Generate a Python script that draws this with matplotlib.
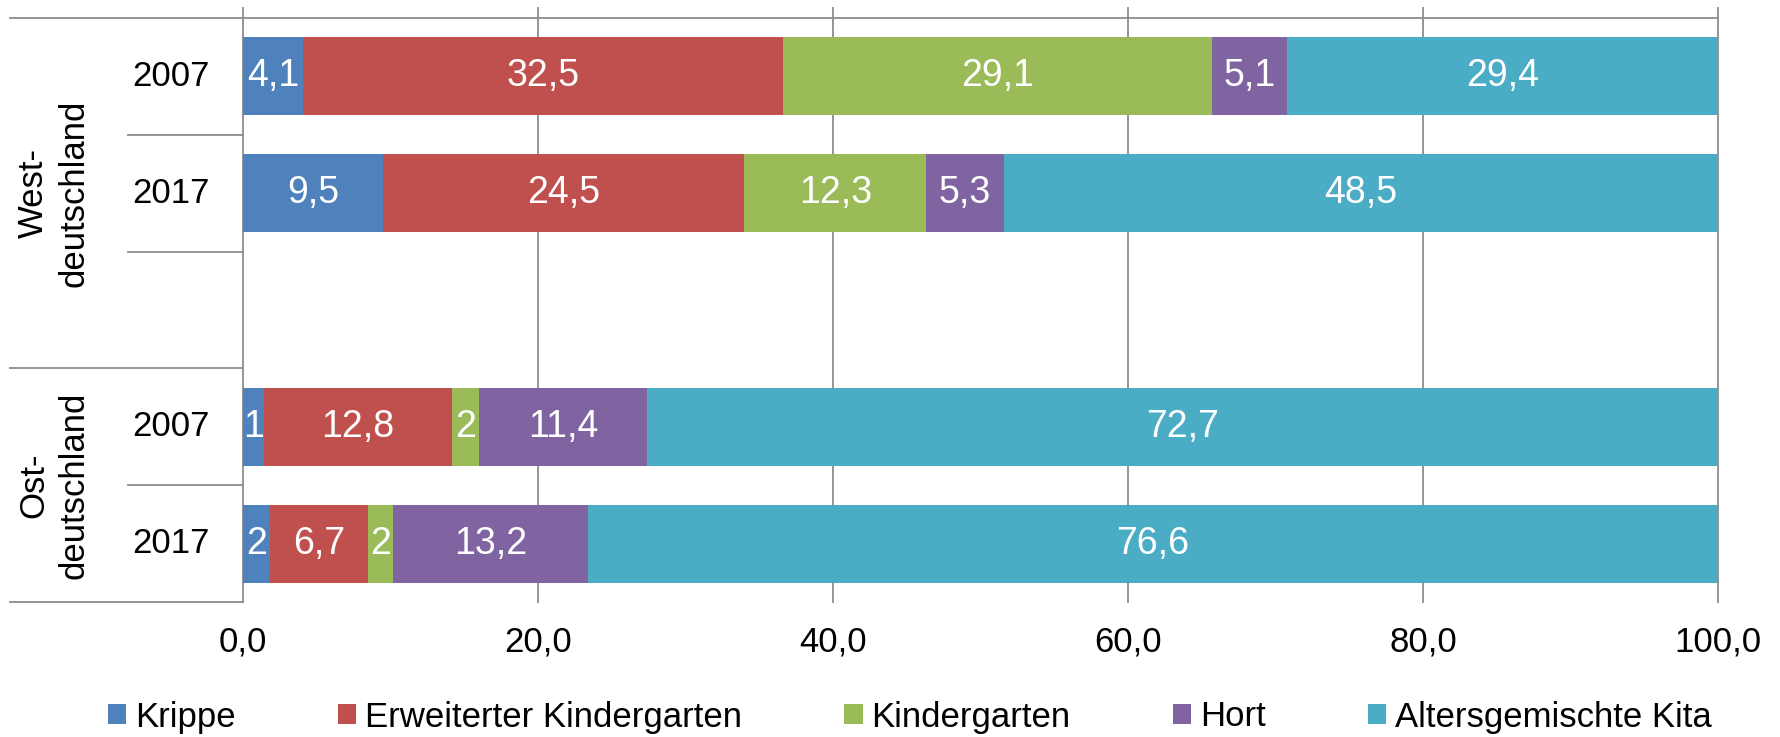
import matplotlib
matplotlib.use("Agg")
import matplotlib.pyplot as plt
from matplotlib.patches import Patch

plt.rcParams['font.family'] = ['Liberation Sans', 'DejaVu Sans']

# ---- data ----
groups = ["West-\ndeutschland", "Ost-\ndeutschland"]
years = ["2007", "2017", "2007", "2017"]
series_names = ["Krippe", "Erweiterter Kindergarten", "Kindergarten", "Hort",
                "Altersgemischte Kita"]
krippe = [4.1, 9.5, 1.4, 1.8]
erweitert = [32.5, 24.5, 12.8, 6.7]
kindergarten = [29.1, 12.3, 1.8, 1.7]
hort = [5.1, 5.3, 11.4, 13.2]
alters = [29.4, 48.5, 72.7, 76.6]
krippe_labels = ["4,1", "9,5", "1", "2"]
kindergarten_labels = ["29,1", "12,3", "2", "2"]
xticks = [0, 20, 40, 60, 80, 100]
xtick_labels = ["0,0", "20,0", "40,0", "60,0", "80,0", "100,0"]
colors = ["#4F81BD", "#C0504D", "#9BBB59", "#8064A2", "#4BACC6"]

def fmt(v):
    return f"{v:.1f}".replace(".", ",")

series = [krippe, erweitert, kindergarten, hort, alters]
labels = [krippe_labels, [fmt(v) for v in erweitert], kindergarten_labels,
          [fmt(v) for v in hort], [fmt(v) for v in alters]]

positions = [0, 1, 3, 4]  # slot 2 is an empty slot in the chart

W, H = 1781, 737
fig = plt.figure(figsize=(W / 100, H / 100), dpi=100)
ax_left, ax_right, ax_top, ax_bottom = 243, 1718, 8, 602
ax = fig.add_axes([ax_left / W, 1 - ax_bottom / H,
                   (ax_right - ax_left) / W, (ax_bottom - ax_top) / H])

slot_px = (602 - 18) / 5.0
ax.set_ylim(4.5, -0.5 - 10 / slot_px)
ax.set_xlim(0, 100)

grid_col = "#8c8c8c"
for t in xticks:
    ax.axvline(t, color=grid_col, lw=1.3, zorder=1, clip_on=False)

left = [0.0] * len(positions)
for vals, lab, col in zip(series, labels, colors):
    cont = ax.barh(positions, vals, left=left, height=0.668, color=col,
                   zorder=3, edgecolor='none')
    ax.bar_label(cont, labels=lab, label_type='center', color='white',
                 fontsize=27)
    left = [a + b for a, b in zip(left, vals)]

for s in ax.spines.values():
    s.set_visible(False)
ax.set_yticks([])
ax.set_xticks(xticks)
ax.set_xticklabels(xtick_labels)
ax.tick_params(axis='x', length=0, pad=17, labelsize=25, colors='black')

# category axis lines / separators
tr = ax.get_yaxis_transform()
far = (10 - ax_left) / (ax_right - ax_left)
near = (128 - ax_left) / (ax_right - ax_left)
ax.plot([far, 1.0], [-0.5, -0.5], transform=tr, color=grid_col, lw=1.3,
        clip_on=False, zorder=2)
for y in [0.5, 1.5, 3.5]:
    ax.plot([near, 0], [y, y], transform=tr, color=grid_col, lw=1.3,
            clip_on=False)
for y in [2.5, 4.5]:
    ax.plot([far, 0], [y, y], transform=tr, color=grid_col, lw=1.3,
            clip_on=False)

yr_x = (171 - ax_left) / (ax_right - ax_left)
for p, yl in zip(positions, years):
    ax.text(yr_x, p, yl, transform=tr, ha='center', va='center', fontsize=25)

grp_x = (54 - ax_left) / (ax_right - ax_left)
for g, yc in zip(groups, [1.0, 3.5]):
    ax.text(grp_x, yc, g, transform=tr, ha='center', va='center',
            rotation=90, multialignment='center', linespacing=1.3,
            fontsize=25)

handles = [Patch(facecolor=c, edgecolor='none') for c in colors]
fig.legend(handles, series_names, loc='center',
           bbox_to_anchor=(910 / W, 1 - 717 / H), ncol=5, frameon=False,
           fontsize=25, handlelength=0.52, handleheight=0.52,
           handletextpad=0.26, columnspacing=2.95, borderpad=0,
           borderaxespad=0)

fig.savefig("out.png", dpi=100)
